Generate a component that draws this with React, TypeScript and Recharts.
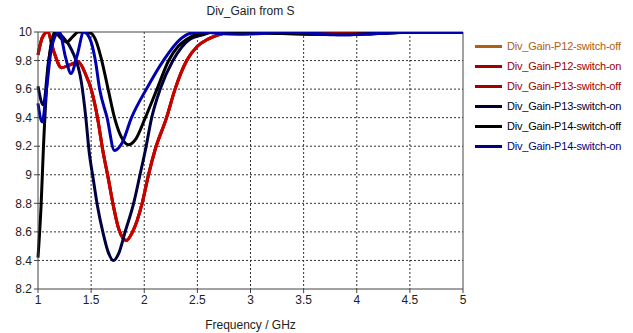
import { LineChart, Line, XAxis, YAxis, CartesianGrid, ReferenceLine } from "recharts";

// frequency (GHz) / gain pairs, one pair of arrays per trace
const freqP12Off = [1.0, 1.04, 1.09, 1.15, 1.22, 1.3, 1.38, 1.45, 1.5, 1.56, 1.61, 1.66, 1.71, 1.76, 1.83, 1.89, 1.98, 2.04, 2.1, 2.21, 2.29, 2.4, 2.5, 2.6, 2.7, 2.85, 3.0, 3.3, 3.6, 3.9, 4.2, 4.6, 5.0];
const gainP12Off = [9.84, 9.96, 10.0, 9.86, 9.75, 9.77, 9.79, 9.7, 9.6, 9.4, 9.17, 8.98, 8.78, 8.62, 8.54, 8.6, 8.8, 9.0, 9.17, 9.4, 9.6, 9.8, 9.9, 9.95, 9.98, 10, 10, 9.995, 9.985, 9.985, 9.995, 10, 10];

const freqP12On = [1.0, 1.04, 1.09, 1.15, 1.22, 1.3, 1.38, 1.45, 1.5, 1.56, 1.61, 1.66, 1.71, 1.76, 1.83, 1.89, 1.98, 2.04, 2.1, 2.21, 2.29, 2.4, 2.5, 2.6, 2.7, 2.85, 3.0, 3.3, 3.6, 3.9, 4.2, 4.6, 5.0];
const gainP12On = [9.84, 9.96, 10.0, 9.86, 9.75, 9.77, 9.79, 9.7, 9.6, 9.4, 9.17, 8.98, 8.78, 8.62, 8.54, 8.6, 8.8, 9.0, 9.17, 9.4, 9.6, 9.8, 9.9, 9.95, 9.98, 10, 10, 9.995, 9.99, 9.99, 9.995, 10, 10];

const freqP13Off = [1.0, 1.04, 1.09, 1.15, 1.22, 1.3, 1.38, 1.45, 1.5, 1.56, 1.61, 1.66, 1.71, 1.76, 1.83, 1.89, 1.98, 2.04, 2.1, 2.21, 2.29, 2.4, 2.5, 2.6, 2.7, 2.85, 3.0, 3.3, 3.6, 3.9, 4.2, 4.6, 5.0];
const gainP13Off = [9.84, 9.96, 10.0, 9.86, 9.75, 9.77, 9.79, 9.7, 9.6, 9.4, 9.17, 8.98, 8.78, 8.62, 8.54, 8.6, 8.8, 9.0, 9.17, 9.4, 9.6, 9.8, 9.9, 9.95, 9.98, 10, 10, 9.995, 9.99, 9.99, 9.995, 10, 10];

const freqP13On = [1.0, 1.05, 1.1, 1.17, 1.24, 1.32, 1.41, 1.45, 1.48, 1.52, 1.56, 1.61, 1.66, 1.71, 1.76, 1.82, 1.9, 1.96, 2.01, 2.07, 2.15, 2.27, 2.43, 2.55, 2.65, 2.8, 3.0, 3.3, 3.6, 3.9, 4.2, 4.6, 5.0];
const gainP13On = [9.62, 9.49, 9.8, 10.0, 9.96, 9.87, 9.64, 9.4, 9.17, 8.97, 8.78, 8.6, 8.46, 8.4, 8.45, 8.6, 8.8, 9.0, 9.17, 9.4, 9.6, 9.8, 9.95, 9.98, 10, 10, 9.995, 9.99, 9.985, 9.98, 9.99, 10, 10];

const freqP14Off = [1.0, 1.03, 1.05, 1.08, 1.12, 1.16, 1.21, 1.27, 1.33, 1.38, 1.44, 1.5, 1.55, 1.6, 1.66, 1.72, 1.78, 1.85, 1.92, 2.01, 2.12, 2.23, 2.32, 2.4, 2.52, 2.65, 2.8, 3.0, 3.3, 3.6, 3.9, 4.2, 4.6, 5.0];
const gainP14Off = [8.42, 8.8, 9.17, 9.6, 9.9, 10.0, 9.96, 9.93, 9.97, 10.0, 10.0, 9.99, 9.93, 9.8, 9.6, 9.4, 9.27, 9.21, 9.25, 9.4, 9.6, 9.8, 9.9, 9.95, 9.99, 10, 10, 9.995, 9.99, 9.985, 9.985, 9.99, 10, 10];

const freqP14On = [1.0, 1.04, 1.08, 1.13, 1.2, 1.26, 1.31, 1.37, 1.43, 1.49, 1.54, 1.58, 1.65, 1.72, 1.79, 1.88, 2.02, 2.18, 2.34, 2.43, 2.55, 2.7, 2.9, 3.1, 3.3, 3.6, 3.9, 4.2, 4.6, 5.0];
const gainP14On = [9.5, 9.37, 9.6, 9.9, 10.0, 9.82, 9.71, 9.84, 10.0, 9.95, 9.8, 9.6, 9.4, 9.17, 9.22, 9.4, 9.6, 9.8, 9.95, 9.99, 10, 9.99, 9.985, 9.99, 10, 9.99, 9.98, 9.99, 10, 10];

const xTicks = [1, 1.5, 2, 2.5, 3, 3.5, 4, 4.5, 5];
const yTicks = [8.2, 8.4, 8.6, 8.8, 9, 9.2, 9.4, 9.6, 9.8, 10];

const toPoints = (freq: number[], gain: number[]) => freq.map((f, i) => ({ f, g: gain[i] }));

const series = [
  { name: "Div_Gain-P12-switch-off", data: toPoints(freqP12Off, gainP12Off), color: "#c8700a", legend: "#b06010" },
  { name: "Div_Gain-P12-switch-on", data: toPoints(freqP12On, gainP12On), color: "#a00000", legend: "#a00000" },
  { name: "Div_Gain-P13-switch-off", data: toPoints(freqP13Off, gainP13Off), color: "#c80000", legend: "#a00000" },
  { name: "Div_Gain-P13-switch-on", data: toPoints(freqP13On, gainP13On), color: "#000040", legend: "#000030" },
  { name: "Div_Gain-P14-switch-off", data: toPoints(freqP14Off, gainP14Off), color: "#000000", legend: "#000000" },
  { name: "Div_Gain-P14-switch-on", data: toPoints(freqP14On, gainP14On), color: "#0000b0", legend: "#000080" },
];

const font = "'Liberation Sans', Arial, sans-serif";

export default function App() {
  return (
    <div style={{ position: "relative", width: 633, height: 333, background: "#fff", fontFamily: font }}>
      <style>{`body{margin:0}`}</style>
      <div style={{ position: "absolute", left: 0, width: 501, top: 4, textAlign: "center", fontSize: 12, color: "#222" }}>
        Div_Gain from S
      </div>
      <LineChart width={633} height={333} margin={{ top: 32, right: 170, bottom: 0, left: 0 }}>
        <CartesianGrid stroke="#333" strokeDasharray="2 2" verticalValues={[1.5, 2, 2.5, 3, 3.5, 4, 4.5]} horizontalValues={[8.4, 8.6, 8.8, 9, 9.2, 9.4, 9.6, 9.8]} />
        <XAxis
          type="number"
          dataKey="f"
          domain={[1, 5]}
          ticks={xTicks}
          height={44}
          tickSize={4}
          stroke="#444"
          tick={{ fill: "#222", fontSize: 12, fontFamily: font }}
          allowDuplicatedCategory={false}
          label={{ value: "Frequency / GHz", position: "insideBottom", offset: 4, fill: "#222", fontSize: 12, fontFamily: font }}
        />
        <YAxis
          type="number"
          domain={[8.2, 10]}
          ticks={yTicks}
          width={38}
          tickSize={4}
          stroke="#444"
          tick={{ fill: "#222", fontSize: 12, fontFamily: font }}
          allowDataOverflow
        />
        <ReferenceLine x={5} stroke="#444" />
        <ReferenceLine y={10} stroke="#444" />
        {series.map((s) => (
          <Line
            key={s.name}
            data={s.data}
            dataKey="g"
            name={s.name}
            type="monotone"
            stroke={s.color}
            strokeWidth={3}
            dot={false}
            isAnimationActive={false}
          />
        ))}
      </LineChart>
      <div style={{ position: "absolute", left: 475, top: 36 }}>
        {series.map((s) => (
          <div key={s.name} style={{ display: "flex", alignItems: "center", height: 20, whiteSpace: "nowrap" }}>
            <div style={{ width: 27, height: 3, background: s.legend, marginRight: 5, flex: "none" }} />
            <span style={{ fontSize: 11, letterSpacing: -0.2, color: s.legend }}>{s.name}</span>
          </div>
        ))}
      </div>
    </div>
  );
}
